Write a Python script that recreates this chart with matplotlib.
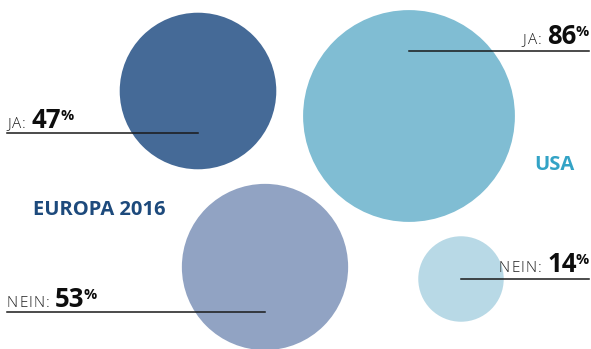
import numpy as np
import matplotlib.pyplot as plt
from matplotlib.patches import Circle

# survey answers (percent)
groups = ["EUROPA 2016", "EUROPA 2016", "USA", "USA"]
answers = ["JA", "NEIN", "JA", "NEIN"]
values = [47, 53, 86, 14]

# layout in pixels: bubble centres, leader line y, label side
centers = [(198, 91), (265, 267), (409, 116), (461, 279)]
line_y = [133, 312, 51, 279]
sides = ["left", "left", "right", "right"]
colors = ["#456A97", "#91A3C3", "#80BDD3", "#B8D9E6"]

SCALE = 11.42  # px of radius per sqrt(percent)
FONT = ["Open Sans", "DejaVu Sans"]

fig = plt.figure(figsize=(5.91, 3.49), dpi=100)
ax = fig.add_axes([0, 0, 1, 1])
ax.set_xlim(0, 591)
ax.set_ylim(349, 0)
ax.set_aspect("equal")
ax.axis("off")
renderer = fig.canvas.get_renderer()


def run_text(x, y, pieces, ha="left"):
    # place text pieces one after another along a common baseline
    arts = []
    total = 0
    for s, size, weight, color, rise, gap in pieces:
        t = ax.text(0, 0, s, fontsize=size, fontweight=weight, family=FONT,
                    color=color, ha="left", va="baseline", zorder=5)
        w = t.get_window_extent(renderer).width
        arts.append((t, w, rise, gap))
        total += w + gap
    total -= arts[-1][3]
    cx = x - total if ha == "right" else x
    for t, w, rise, gap in arts:
        t.set_position((cx, y - rise))
        cx += w + gap


for (cx, cy), v, c in zip(centers, values, colors):
    ax.add_patch(Circle((cx, cy), SCALE * np.sqrt(v), color=c, lw=0, zorder=1))

for (cx, cy), v, a, ly, side in zip(centers, values, answers, line_y, sides):
    word = [(ch, 11, "light", "#1e1e1e", 0, 1.0) for ch in a + ":"]
    word[-1] = (":", 11, "light", "#1e1e1e", 0, 6)
    pieces = word + [(str(v), 18.5, "bold", "#0d0d0d", 0, -1),
                     ("%", 10.5, "bold", "#0d0d0d", 8, 0)]
    if side == "left":
        ax.plot([7, cx], [ly, ly], color="#1a1a1a", lw=1.1, zorder=4)
        run_text(7, ly - 5, pieces, "left")
    else:
        ax.plot([cx, 589], [ly, ly], color="#1a1a1a", lw=1.1, zorder=4)
        run_text(589, ly - 7, pieces, "right")

ax.text(33, 215, groups[0], fontsize=14.5, fontweight="bold", family=FONT,
        color="#1D4A7C", ha="left", va="baseline")
ax.text(574, 170, groups[2], fontsize=14.5, fontweight="bold", family=FONT,
        color="#33A3C6", ha="right", va="baseline")

fig.savefig("out.png", dpi=100)
